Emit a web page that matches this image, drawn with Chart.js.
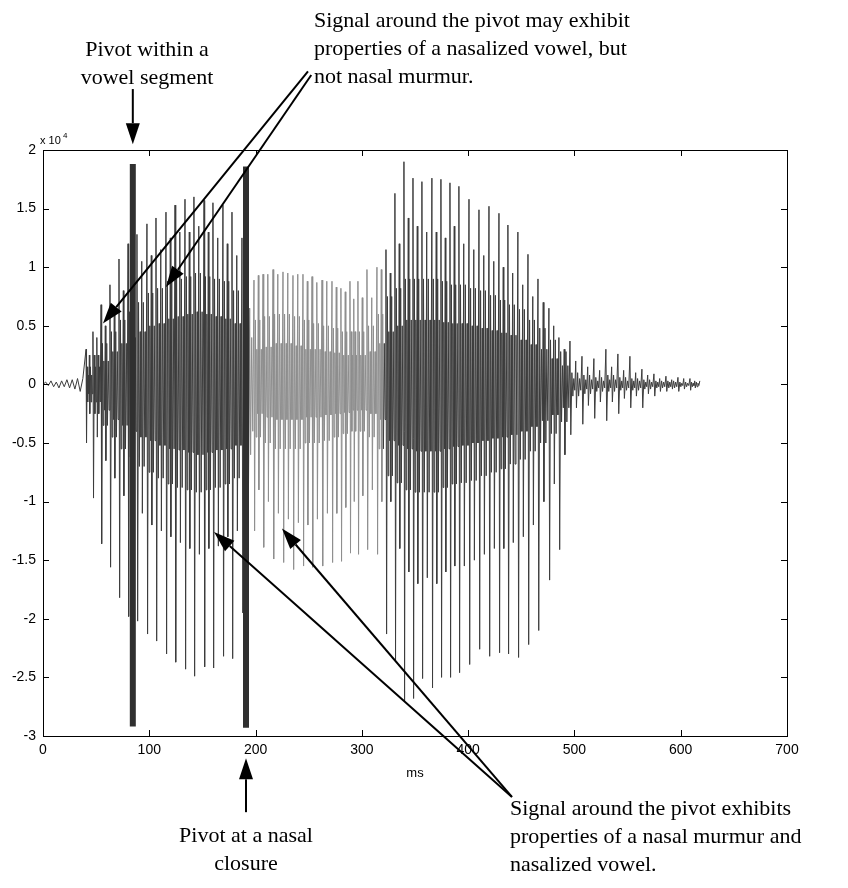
<!DOCTYPE html>
<html lang="en">
<head>
<meta charset="UTF-8">
<title>Pivots on a speech waveform</title>
<script src="https://cdn.jsdelivr.net/npm/chart.js"></script>
<style>
  body { margin: 0; background: #fff; }
  canvas { display: block; }
</style>
</head>
<body>
<canvas id="wave" width="848" height="888"></canvas>
<script>
// time in ms, amplitude in units of 10^4
const noiseT = [0, 2.5, 5, 7.5, 10, 12.5, 15, 17.5, 20, 22.5, 25, 27.5, 30, 32.5, 35, 37.5];
const noiseV = [0, 0.02, -0.01, 0.03, -0.02, 0.02, -0.03, 0.03, -0.02, 0.04, -0.03, 0.04, -0.04, 0.05, -0.06, 0.05];

// one entry per pitch period: vowel, nasal murmur, vowel, decay
const pulseT = [
  40.5, 47.0, 54.6, 63.0, 71.5, 80.0, 88.4, 97.8, 106.3, 115.7, 124.2, 133.6, 142.0, 151.5, 159.9, 169.3, 177.8, 187.2,
  198.5, 207.0, 216.4, 225.8, 235.2, 244.6, 253.1, 262.5, 271.9, 280.3, 288.8, 296.3, 304.8, 314.2,
  322.7, 331.1, 339.6, 348.1, 356.5, 365.9, 374.4, 382.9, 391.3, 400.8, 410.2, 419.6, 429.0, 437.4, 446.8, 456.3, 465.7, 476.0, 485.4,
  495.8, 507.1, 518.3, 529.6, 540.9, 552.2, 563.5, 574.8, 586.1, 597.4, 608.7
];
const pulseHi = [
  0.30, 0.45, 0.68, 0.85, 1.07, 1.20, 1.28, 1.37, 1.42, 1.47, 1.53, 1.58, 1.60, 1.57, 1.55, 1.53, 1.47, 1.25,
  0.89, 0.94, 0.98, 0.96, 0.93, 0.94, 0.92, 0.89, 0.88, 0.82, 0.88, 0.88, 0.98, 1.00,
  1.15, 1.63, 1.90, 1.76, 1.73, 1.76, 1.75, 1.72, 1.69, 1.58, 1.49, 1.52, 1.46, 1.36, 1.30, 1.11, 0.90, 0.65, 0.40,
  0.37, 0.24, 0.22, 0.30, 0.26, 0.24, 0.13, 0.09, 0.07, 0.06, 0.05
];
const pulseLo = [
  -0.50, -0.97, -1.36, -1.56, -1.82, -1.98, -2.02, -2.13, -2.19, -2.30, -2.37, -2.43, -2.49, -2.41, -2.42, -2.32, -2.34, -1.95,
  -1.25, -1.39, -1.49, -1.52, -1.58, -1.55, -1.56, -1.55, -1.52, -1.51, -1.44, -1.45, -1.41, -1.45,
  -2.13, -2.36, -2.70, -2.68, -2.51, -2.59, -2.50, -2.50, -2.46, -2.39, -2.26, -2.32, -2.29, -2.30, -2.33, -2.22, -2.10, -1.67, -1.41,
  -0.43, -0.34, -0.29, -0.31, -0.25, -0.20, -0.20, -0.10, -0.06, -0.06, -0.05
];
const secHi = [
  0.25, 0.40, 0.50, 0.65, 0.80, 0.95, 1.05, 1.10, 1.15, 1.25, 1.30, 1.30, 1.35, 1.30, 1.25, 1.20, 1.10, 0.85,
  0.93, 0.94, 0.94, 0.95, 0.94, 0.88, 0.87, 0.88, 0.83, 0.79, 0.73, 0.74, 0.74, 0.98,
  0.95, 1.20, 1.42, 1.35, 1.30, 1.30, 1.25, 1.35, 1.20, 1.15, 1.10, 1.05, 1.00, 0.95, 0.85, 0.75, 0.70, 0.50, 0.30,
  0.20, 0.15, 0.12, 0.15, 0.12, 0.10, 0.08, 0.05, 0.04, 0.05, 0.03
];
const secLo = [
  -0.25, -0.45, -0.65, -0.80, -0.95, -1.05, -1.10, -1.20, -1.25, -1.30, -1.35, -1.40, -1.45, -1.40, -1.38, -1.30, -1.25, -0.95,
  -0.90, -1.00, -1.10, -1.15, -1.18, -1.20, -1.15, -1.10, -1.10, -1.05, -1.00, -0.95, -0.90, -1.00,
  -1.00, -1.40, -1.60, -1.70, -1.65, -1.70, -1.60, -1.55, -1.55, -1.50, -1.45, -1.40, -1.40, -1.35, -1.30, -1.20, -1.00, -0.85, -0.60,
  -0.20, -0.18, -0.15, -0.15, -0.12, -0.10, -0.08, -0.06, -0.04, -0.04, -0.03
];
// ringing right after a spike
const bandHi = [
  0.15, 0.25, 0.35, 0.45, 0.55, 0.62, 0.70, 0.78, 0.82, 0.88, 0.90, 0.92, 0.95, 0.92, 0.90, 0.88, 0.80, 0.65,
  0.55, 0.58, 0.60, 0.60, 0.58, 0.55, 0.52, 0.50, 0.48, 0.45, 0.45, 0.45, 0.50, 0.60,
  0.75, 0.82, 0.90, 0.90, 0.90, 0.90, 0.88, 0.85, 0.85, 0.82, 0.80, 0.76, 0.72, 0.68, 0.64, 0.55, 0.48, 0.38, 0.28,
  0.10, 0.08, 0.06, 0.08, 0.06, 0.05, 0.04, 0.03, 0.03, 0.02, 0.02
];
const bandLo = [
  -0.15, -0.25, -0.35, -0.45, -0.55, -0.62, -0.70, -0.75, -0.80, -0.85, -0.88, -0.90, -0.92, -0.90, -0.88, -0.85, -0.80, -0.60,
  -0.45, -0.50, -0.55, -0.55, -0.55, -0.50, -0.50, -0.48, -0.45, -0.42, -0.40, -0.40, -0.45, -0.55,
  -0.78, -0.84, -0.90, -0.92, -0.92, -0.92, -0.88, -0.85, -0.84, -0.82, -0.78, -0.75, -0.72, -0.68, -0.64, -0.57, -0.50, -0.42, -0.32,
  -0.10, -0.08, -0.06, -0.06, -0.05, -0.05, -0.04, -0.03, -0.03, -0.02, -0.02
];
// ringing later in the period, already decayed
const lateHi = [
  0.08, 0.15, 0.20, 0.28, 0.35, 0.40, 0.45, 0.50, 0.52, 0.56, 0.58, 0.60, 0.62, 0.60, 0.58, 0.56, 0.52, 0.40,
  0.30, 0.32, 0.35, 0.35, 0.33, 0.30, 0.30, 0.28, 0.27, 0.25, 0.25, 0.25, 0.28, 0.35,
  0.45, 0.50, 0.55, 0.55, 0.55, 0.55, 0.53, 0.52, 0.52, 0.50, 0.48, 0.46, 0.44, 0.42, 0.38, 0.34, 0.30, 0.22, 0.16,
  0.05, 0.04, 0.03, 0.04, 0.03, 0.03, 0.02, 0.02, 0.02, 0.01, 0.01
];
const lateLo = [
  -0.08, -0.15, -0.22, -0.30, -0.35, -0.40, -0.45, -0.48, -0.52, -0.55, -0.56, -0.58, -0.60, -0.58, -0.56, -0.55, -0.52, -0.40,
  -0.25, -0.28, -0.30, -0.30, -0.30, -0.28, -0.28, -0.26, -0.25, -0.24, -0.22, -0.22, -0.25, -0.30,
  -0.48, -0.52, -0.55, -0.57, -0.57, -0.57, -0.55, -0.53, -0.52, -0.50, -0.48, -0.46, -0.45, -0.43, -0.40, -0.36, -0.31, -0.26, -0.20,
  -0.05, -0.04, -0.03, -0.03, -0.03, -0.03, -0.02, -0.02, -0.02, -0.01, -0.01
];
const signalEnd = 618;
const endValue = 0.03;

// nasal murmur stretch, drawn lighter
const murmurStart = 194;
const murmurEnd = 320;

// the two pivots (ms) and the extent of their bars
const pivotT = [84.5, 191.0];
const pivotTop = [1.88, 1.86];
const pivotBottom = [-2.92, -2.93];

const xTicks = [0, 100, 200, 300, 400, 500, 600, 700];
const yTicks = [2, 1.5, 1, 0.5, 0, -0.5, -1, -1.5, -2, -2.5, -3];

// arrows: tail (ms, value) -> tip (ms, value)
const arrows = [
  [84.5, 2.52, 84.5, 2.05],
  [191.0, -3.65, 191.0, -3.19],
  [249.3, 2.67, 56.4, 0.52],
  [252.4, 2.64, 115.7, 0.83],
  [441.2, -3.52, 160.9, -1.26],
  [441.2, -3.52, 224.8, -1.23]
];

const notes = [
  { lines: ['Pivot within a', 'vowel segment'], x: 147, y: 50, align: 'center' },
  { lines: ['Signal around the pivot may exhibit', 'properties of a nasalized vowel, but', 'not nasal murmur.'], x: 314, y: 21, align: 'left' },
  { lines: ['Pivot at a nasal', 'closure'], x: 246, y: 836, align: 'center' },
  { lines: ['Signal around the pivot exhibits', 'properties of a nasal murmur and', 'nasalized vowel.'], x: 510, y: 809, align: 'left' }
];

// each period: main spike, ringing, second spike, ringing
const slots = [0, 0.07, 0.16, 0.24, 0.32, 0.40, 0.48, 0.54, 0.64, 0.72, 0.81, 0.90];

function buildWave() {
  const pts = noiseT.map((t, i) => ({ x: t, y: noiseV[i] }));
  pulseT.forEach((t, i) => {
    const next = i + 1 < pulseT.length ? pulseT[i + 1] : signalEnd;
    const p = next - t;
    const vals = [pulseHi[i], pulseLo[i], bandHi[i], bandLo[i], lateHi[i], lateLo[i],
                  secHi[i], secLo[i], bandHi[i], bandLo[i], lateHi[i], lateLo[i]];
    slots.forEach((f, k) => pts.push({ x: t + f * p, y: vals[k] }));
  });
  pts.push({ x: signalEnd, y: endValue });
  return pts;
}

const tickFont = { family: 'Liberation Sans', size: 14 };

const frame = {
  id: 'frame',
  afterDraw(chart) {
    const ctx = chart.ctx;
    const { left, right, top, bottom } = chart.chartArea;
    const xs = chart.scales.x, ys = chart.scales.y;
    ctx.save();
    ctx.strokeStyle = '#000';
    ctx.lineWidth = 1;
    ctx.strokeRect(Math.round(left) + 0.5, Math.round(top) + 0.5, Math.round(right - left), Math.round(bottom - top));

    // inward tick marks on all four sides
    ctx.beginPath();
    xTicks.forEach(v => {
      const px = Math.round(xs.getPixelForValue(v)) + 0.5;
      ctx.moveTo(px, bottom); ctx.lineTo(px, bottom - 6);
      ctx.moveTo(px, top); ctx.lineTo(px, top + 6);
    });
    yTicks.forEach(v => {
      const py = Math.round(ys.getPixelForValue(v)) + 0.5;
      ctx.moveTo(left, py); ctx.lineTo(left + 6, py);
      ctx.moveTo(right, py); ctx.lineTo(right - 6, py);
    });
    ctx.stroke();

    // exponent and axis name
    ctx.fillStyle = '#000';
    ctx.font = '11px "Liberation Sans"';
    ctx.textBaseline = 'alphabetic';
    ctx.textAlign = 'left';
    ctx.fillText('x 10', left - 3, top - 6);
    ctx.font = '8px "Liberation Sans"';
    ctx.fillText('4', left + 20, top - 12);
    ctx.font = '13px "Liberation Sans"';
    ctx.textAlign = 'center';
    ctx.fillText('ms', xs.getPixelForValue(350), bottom + 41);

    // arrows
    ctx.lineWidth = 2;
    arrows.forEach(a => {
      const x1 = xs.getPixelForValue(a[0]), y1 = ys.getPixelForValue(a[1]);
      const x2 = xs.getPixelForValue(a[2]), y2 = ys.getPixelForValue(a[3]);
      const ang = Math.atan2(y2 - y1, x2 - x1);
      const L = 21, W = 7;
      const bx = x2 - L * Math.cos(ang), by = y2 - L * Math.sin(ang);
      ctx.beginPath();
      ctx.moveTo(x1, y1);
      ctx.lineTo(bx, by);
      ctx.stroke();
      ctx.beginPath();
      ctx.moveTo(x2, y2);
      ctx.lineTo(bx + W * Math.sin(ang), by - W * Math.cos(ang));
      ctx.lineTo(bx - W * Math.sin(ang), by + W * Math.cos(ang));
      ctx.closePath();
      ctx.fill();
    });

    // captions
    ctx.font = '22px "Liberation Serif"';
    ctx.textBaseline = 'middle';
    notes.forEach(n => {
      ctx.textAlign = n.align;
      n.lines.forEach((s, i) => ctx.fillText(s, n.x, n.y + i * 28));
    });
    ctx.restore();
  }
};

new Chart(document.getElementById('wave'), {
  type: 'line',
  data: {
    datasets: [
      {
        data: pivotT.map((t, i) => ({ x: t, y: pivotTop[i] })).flatMap((p, i) => [p, { x: pivotT[i], y: pivotBottom[i] }, { x: pivotT[i], y: NaN }]),
        borderColor: '#303030',
        borderWidth: 6,
        pointRadius: 0,
        spanGaps: false,
        order: 0
      },
      {
        data: buildWave(),
        borderWidth: 1,
        borderColor: '#3c3c3c',
        pointRadius: 0,
        tension: 0,
        order: 1,
        segment: {
          borderColor: c => (c.p0.parsed.x > murmurStart && c.p0.parsed.x < murmurEnd) ? '#8e8e8e' : '#3c3c3c'
        }
      }
    ]
  },
  options: {
    responsive: false,
    animation: false,
    events: [],
    layout: { padding: { left: 0, top: 150, right: 61, bottom: 0 } },
    plugins: { legend: { display: false }, tooltip: { enabled: false } },
    scales: {
      x: {
        type: 'linear', min: 0, max: 700,
        ticks: { stepSize: 100, color: '#000', font: tickFont, padding: 6, maxRotation: 0 },
        grid: { display: false, drawTicks: false },
        border: { display: false },
        afterFit: s => { s.height = 152; }
      },
      y: {
        min: -3, max: 2,
        ticks: { stepSize: 0.5, color: '#000', font: tickFont, padding: 7, callback: v => String(v) },
        grid: { display: false, drawTicks: false },
        border: { display: false },
        afterFit: s => { s.width = 43; }
      }
    }
  },
  plugins: [frame]
});
</script>
</body>
</html>
